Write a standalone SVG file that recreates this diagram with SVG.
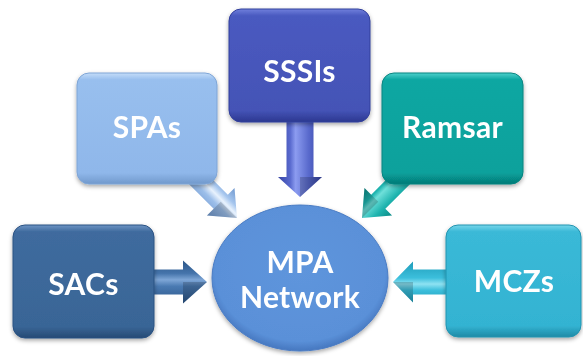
<svg xmlns="http://www.w3.org/2000/svg" width="583" height="356" viewBox="0 0 583 356">
<style>
  .lbl { font-family: Lato, "Open Sans", "Liberation Sans", sans-serif; font-weight: bold; font-size: 30px; letter-spacing: 0.3px; fill: #ffffff; text-anchor: middle; }
  .box { filter: url(#shadow); }
  .facet { fill: #000000; fill-opacity: 0.18; }
</style>
<defs>
  <filter id="shadow" x="-20%" y="-20%" width="140%" height="150%">
    <feDropShadow dx="0" dy="2" stdDeviation="2" flood-color="#000000" flood-opacity="0.35"/>
  </filter>
  <linearGradient id="gSPA" x1="0" y1="0" x2="0" y2="1">
    <stop offset="0" stop-color="#c4dcf8"/><stop offset="0.06" stop-color="#98bfee"/><stop offset="0.9" stop-color="#8fb7ea"/><stop offset="1" stop-color="#7199cc"/>
  </linearGradient>
  <linearGradient id="gSSSI" x1="0" y1="0" x2="0" y2="1">
    <stop offset="0" stop-color="#7080dc"/><stop offset="0.06" stop-color="#4a5ac0"/><stop offset="0.9" stop-color="#4453b6"/><stop offset="1" stop-color="#2c3890"/>
  </linearGradient>
  <linearGradient id="gRam" x1="0" y1="0" x2="0" y2="1">
    <stop offset="0" stop-color="#4cd0cb"/><stop offset="0.06" stop-color="#0ea7a2"/><stop offset="0.9" stop-color="#08a19c"/><stop offset="1" stop-color="#057a76"/>
  </linearGradient>
  <linearGradient id="gSAC" x1="0" y1="0" x2="0" y2="1">
    <stop offset="0" stop-color="#6d94c4"/><stop offset="0.06" stop-color="#3f6b9e"/><stop offset="0.9" stop-color="#396596"/><stop offset="1" stop-color="#264a74"/>
  </linearGradient>
  <linearGradient id="gMCZ" x1="0" y1="0" x2="0" y2="1">
    <stop offset="0" stop-color="#78d6ea"/><stop offset="0.06" stop-color="#3ab9d7"/><stop offset="0.9" stop-color="#33b3d2"/><stop offset="1" stop-color="#1f8aa6"/>
  </linearGradient>
  <radialGradient id="gMPA" cx="0.5" cy="0.45" r="0.55">
    <stop offset="0" stop-color="#5e95dc"/><stop offset="0.88" stop-color="#5a90d8"/><stop offset="1" stop-color="#4677bf"/>
  </radialGradient>
  <linearGradient id="aSPA" x1="0" y1="0" x2="0" y2="1">
    <stop offset="0" stop-color="#6f98cf"/><stop offset="0.3" stop-color="#a6c6ee"/><stop offset="0.45" stop-color="#e8f2fd"/><stop offset="0.62" stop-color="#9dbfea"/><stop offset="1" stop-color="#6f98cf"/>
  </linearGradient>
  <linearGradient id="aSSSI" x1="0" y1="0" x2="0" y2="1">
    <stop offset="0" stop-color="#3644a4"/><stop offset="0.3" stop-color="#5869cc"/><stop offset="0.6" stop-color="#8c9cf0"/><stop offset="0.72" stop-color="#5a6bcf"/><stop offset="1" stop-color="#3644a4"/>
  </linearGradient>
  <linearGradient id="aRam" x1="0" y1="0" x2="0" y2="1">
    <stop offset="0" stop-color="#0a8a86"/><stop offset="0.3" stop-color="#1fb4af"/><stop offset="0.6" stop-color="#6fe0da"/><stop offset="0.72" stop-color="#20b6b1"/><stop offset="1" stop-color="#0a8a86"/>
  </linearGradient>
  <linearGradient id="aSAC" x1="0" y1="0" x2="0" y2="1">
    <stop offset="0" stop-color="#2c5688"/><stop offset="0.3" stop-color="#4574ab"/><stop offset="0.45" stop-color="#7ea6d6"/><stop offset="0.6" stop-color="#4a7ab2"/><stop offset="1" stop-color="#2c5688"/>
  </linearGradient>
  <linearGradient id="aMCZ" x1="0" y1="0" x2="0" y2="1">
    <stop offset="0" stop-color="#1f9cb9"/><stop offset="0.3" stop-color="#3cbfdc"/><stop offset="0.45" stop-color="#8ee2f2"/><stop offset="0.6" stop-color="#3cbfdc"/><stop offset="1" stop-color="#1f9cb9"/>
  </linearGradient>
</defs>
<rect x="0" y="0" width="583" height="356" fill="#ffffff"/>

<g id="connectors">
  <g id="arrow-spas" transform="translate(237,218) rotate(45)">
    <polygon points="-74,-10 -23,-10 -23,-19.5 0,0 -23,19.5 -23,10 -74,10" fill="url(#aSPA)"/>
    <polygon class="facet" points="-23,0 0,0 -23,19.5"/>
  </g>
  <g id="arrow-ramsar" transform="translate(362,218) rotate(135)">
    <polygon points="-74,-10 -23,-10 -23,-19.5 0,0 -23,19.5 -23,10 -74,10" fill="url(#aRam)"/>
    <polygon class="facet" points="-23,0 0,0 -23,19.5"/>
  </g>
  <g id="arrow-sssis" transform="translate(300,197) rotate(90)">
    <polygon points="-82,-13.5 -20,-13.5 -20,-22 0,0 -20,22 -20,13.5 -82,13.5" fill="url(#aSSSI)"/>
    <polygon class="facet" points="-20,0 0,0 -20,-22"/>
  </g>
  <g id="arrow-sacs" transform="translate(207,282)">
    <polygon points="-62,-12.5 -24,-12.5 -24,-21.5 0,0 -24,21.5 -24,12.5 -62,12.5" fill="url(#aSAC)"/>
    <polygon class="facet" points="-24,0 0,0 -24,21.5"/>
  </g>
  <g id="arrow-mczs" transform="translate(393,282) rotate(180)">
    <polygon points="-60,-12.5 -20,-12.5 -20,-20.5 0,0 -20,20.5 -20,12.5 -60,12.5" fill="url(#aMCZ)"/>
    <polygon class="facet" points="-20,0 0,0 -20,-20.5"/>
  </g>
</g>

<g id="node-spas" class="box">
  <rect x="77" y="73" width="140" height="111" rx="12" fill="url(#gSPA)" stroke="#7ea5d6" stroke-width="1"/>
  <text class="lbl" x="147" y="138">SPAs</text>
</g>
<g id="node-sssis" class="box">
  <rect x="229" y="9" width="141" height="113" rx="12" fill="url(#gSSSI)" stroke="#33409c" stroke-width="1"/>
  <text class="lbl" x="299.5" y="82">SSSIs</text>
</g>
<g id="node-ramsar" class="box">
  <rect x="382" y="73" width="141" height="111" rx="12" fill="url(#gRam)" stroke="#078480" stroke-width="1"/>
  <text class="lbl" x="452.5" y="138">Ramsar</text>
</g>
<g id="node-sacs" class="box">
  <rect x="13" y="225" width="141" height="113" rx="12" fill="url(#gSAC)" stroke="#2a5282" stroke-width="1"/>
  <text class="lbl" x="83.5" y="295">SACs</text>
</g>
<g id="node-mczs" class="box">
  <rect x="446" y="225" width="135" height="112" rx="12" fill="url(#gMCZ)" stroke="#2294b0" stroke-width="1"/>
  <text class="lbl" x="514" y="292">MCZs</text>
</g>
<g id="node-mpa" class="box">
  <ellipse cx="300" cy="278" rx="88" ry="73" fill="url(#gMPA)" stroke="#4a7cc4" stroke-width="1"/>
  <text class="lbl" x="300" y="273">MPA</text>
  <text class="lbl" x="300" y="308">Network</text>
</g>
</svg>
